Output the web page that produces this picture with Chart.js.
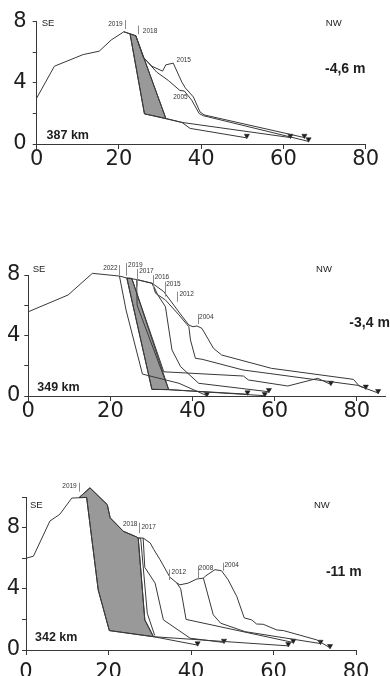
<!DOCTYPE html>
<html>
<head>
<meta charset="utf-8">
<script src="https://cdn.jsdelivr.net/npm/chart.js@4.4.1/dist/chart.umd.min.js"></script>
<style>
  html, body { margin: 0; padding: 0; background: #fff; }
  #wrap { position: relative; width: 390px; height: 676px; overflow: hidden; }
  .panel { position: absolute; left: 0; width: 390px; }
</style>
</head>
<body>
<div id="wrap">
  <div class="panel" style="top:0;height:170px"><canvas id="c1"></canvas></div>
  <div class="panel" style="top:240px;height:200px"><canvas id="c2"></canvas></div>
  <div class="panel" style="top:460px;height:216px"><canvas id="c3"></canvas></div>
</div>
<script>
// ---------- shared ticks ----------
const xTicks = [0, 20, 40, 60, 80];
const yTicks8 = [0, 2, 4, 6, 8];
const yTicks10 = [0, 2, 4, 6, 8, 10];

// ---------- panel 1 : 387 km ----------
const p1Line2019 = [[0,3.0],[4.3,5.08],[11.3,5.84],[15.2,6.06],[18.1,6.79],[21.2,7.33],[22.7,7.19],[26.2,1.97],[35.3,1.41],[37.3,1.02],[51.1,0.4]];
const p1Line2018 = [[21.2,7.33],[24.1,7.07],[31.4,1.67],[35.3,1.41],[61.7,0.42]];
const p1Line2015 = [[24.1,7.07],[25.9,5.67],[28.0,5.08],[30.6,4.76],[31.4,5.17],[33.2,5.28],[35.3,4.04],[36.1,3.68],[38.1,3.07],[39.7,2.1],[40.7,1.9],[65.1,0.42]];
const p1Line2005 = [[25.9,5.67],[29.2,4.69],[32.0,4.15],[34.8,3.5],[35.9,3.46],[37.7,2.86],[39.5,1.99],[40.5,1.85],[66.1,0.17]];
const p1Loss = [[22.7,7.19],[24.1,7.07],[31.4,1.67],[26.2,1.97]];
const p1Toes = [[51.1,0.54],[61.7,0.54],[65.1,0.54],[66.1,0.31]];

// ---------- panel 2 : 349 km ----------
const p2Line2022 = [[0,5.57],[9.7,6.68],[15.6,8.11],[22.2,7.93],[23.8,5.69],[27.8,1.45],[36.7,0.84],[43.5,0.02]];
const p2Line2019 = [[22.2,7.93],[24.0,7.8],[30.1,0.44],[34.2,0.42],[53.4,0.12]];
const p2Line2017 = [[24.0,7.8],[26.4,7.7],[26.5,6.0],[34.2,0.42],[57.6,0.02]];
const p2Line2016 = [[26.4,7.7],[30.2,7.45],[31.5,6.7],[33.4,5.9],[35.0,3.04],[37.1,1.94],[41.5,0.84],[58.6,0.28]];
const p2Line2015 = [[25.2,7.78],[33.0,1.6],[52.4,1.32],[53.6,1.06],[63.2,0.66],[70.5,1.17],[73.7,0.76]];
const p2Line2012 = [[30.2,7.45],[31.0,6.79],[33.4,6.35],[36.7,5.36],[39.1,4.58],[39.5,3.7],[40.7,2.49],[42.3,2.43],[52.3,1.72],[80.4,0.7],[82.2,0.5]];
const p2Line2004 = [[26.4,7.7],[30.2,7.45],[33.0,6.9],[36.3,5.69],[39.1,4.69],[40.1,4.58],[41.1,4.63],[42.3,4.47],[45.1,3.15],[47.1,2.71],[59.2,1.83],[79.2,1.1],[80.6,0.66],[85.2,0.2]];
const p2Loss = [[24.0,7.8],[25.2,7.78],[34.2,0.42],[30.1,0.44]];
const p2Toes = [[43.5,0.13],[53.4,0.24],[57.6,0.13],[58.6,0.4],[73.7,0.88],[82.2,0.62],[85.2,0.33]];

// ---------- panel 3 : 342 km ----------
const p3Line2019 = [[0,6.0],[1.8,6.13],[5.8,8.43],[8.2,8.87],[11.1,9.93],[14.7,9.97],[17.5,3.93],[20.2,1.27],[30.9,0.87],[41.6,0.32]];
const p3Line2018 = [[12.9,9.97],[15.5,10.6],[19.7,9.5],[20.4,8.64],[23.6,7.76],[26.8,7.39],[27.2,7.32],[28.8,1.97],[30.9,0.87],[63.6,0.27]];
const p3Line2018b = [[27.2,7.32],[27.8,7.3],[29.4,2.4],[31.2,0.95]];
const p3Line2017 = [[27.2,7.32],[28.4,7.32],[28.8,5.4],[31.3,4.37],[33.3,1.97],[39.8,0.77],[48.0,0.49]];
const p3Line2012 = [[28.4,7.32],[30.1,7.0],[31.0,6.56],[32.5,5.9],[34.9,4.75],[36.5,4.4],[37.5,4.0],[38.8,2.0],[64.8,0.49]];
const p3Line2008 = [[36.5,4.4],[37.3,4.26],[39.3,4.37],[41.4,4.64],[43.0,4.7],[45.4,2.3],[47.2,1.75],[53.1,1.2],[71.4,0.42]];
const p3Line2004 = [[43.0,4.7],[43.6,4.85],[45.8,5.25],[47.4,5.18],[49.0,4.59],[51.1,3.5],[52.9,2.1],[54.7,1.97],[55.9,1.7],[57.5,1.68],[60.8,1.31],[62.4,1.27],[70.5,0.66],[73.7,0.14]];
const p3Loss = [[12.9,9.97],[15.5,10.6],[19.7,9.5],[20.4,8.64],[23.6,7.76],[26.8,7.39],[27.2,7.32],[28.8,1.97],[30.9,0.87],[20.2,1.27],[17.5,3.93],[14.7,9.97]];
const p3Toes = [[41.6,0.44],[48.0,0.61],[63.6,0.39],[64.8,0.61],[71.4,0.54],[73.7,0.26]];

// ---------- labels (text, anchor in data units) ----------
const p1Years = [
  { t: '2019', x: 20.9, y: 7.84, align: 'right', tx: 21.5, ty0: 8.1, ty1: 7.51 },
  { t: '2018', x: 25.8, y: 7.38, align: 'left', tx: 24.7, ty0: 7.73, ty1: 7.17 },
  { t: '2015', x: 34.0, y: 5.45, align: 'left' },
  { t: '2005', x: 33.2, y: 3.04, align: 'left' }
];
const p2Years = [
  { t: '2022', x: 21.75, y: 8.46, align: 'right', tx: 22.2, ty0: 8.66, ty1: 8.0 },
  { t: '2019', x: 24.3, y: 8.66, align: 'left', tx: 23.9, ty0: 8.79, ty1: 7.95 },
  { t: '2017', x: 27.0, y: 8.23, align: 'left', tx: 26.4, ty0: 8.4, ty1: 7.23 },
  { t: '2016', x: 30.8, y: 7.83, align: 'left', tx: 30.4, ty0: 8.0, ty1: 7.14 },
  { t: '2015', x: 33.6, y: 7.4, align: 'left', tx: 33.3, ty0: 7.56, ty1: 6.57 },
  { t: '2012', x: 36.8, y: 6.74, align: 'left', tx: 36.3, ty0: 6.9, ty1: 6.23 },
  { t: '2004', x: 41.6, y: 5.24, align: 'left', tx: 41.3, ty0: 5.42, ty1: 4.76 }
];
const p3Years = [
  { t: '2019', x: 12.3, y: 10.72, align: 'right', tx: 12.9, ty0: 10.93, ty1: 10.35 },
  { t: '2018', x: 27.0, y: 8.2, align: 'right', tx: 27.5, ty0: 8.32, ty1: 7.63 },
  { t: '2017', x: 28.0, y: 8.0, align: 'left' },
  { t: '2012', x: 35.3, y: 5.07, align: 'left', tx: 34.7, ty0: 5.27, ty1: 4.58 },
  { t: '2008', x: 41.9, y: 5.36, align: 'left', tx: 41.8, ty0: 5.5, ty1: 4.64 },
  { t: '2004', x: 48.1, y: 5.56, align: 'left', tx: 47.8, ty0: 5.7, ty1: 5.18 }
];
const p1Notes = [
  { t: 'SE', x: 1.2, y: 7.87, font: '9.5px "Liberation Sans", Arial' },
  { t: 'NW', x: 70.3, y: 7.87, font: '9.5px "Liberation Sans", Arial' },
  { t: '-4,6 m', x: 70.1, y: 4.9, font: 'bold 14px "Liberation Sans", Arial' },
  { t: '387 km', x: 2.4, y: 0.52, font: 'bold 12.5px "Liberation Sans", Arial' }
];
const p2Notes = [
  { t: 'SE', x: 1.06, y: 8.36, font: '9.5px "Liberation Sans", Arial' },
  { t: 'NW', x: 70.1, y: 8.36, font: '9.5px "Liberation Sans", Arial' },
  { t: '-3,4 m', x: 78.2, y: 4.83, font: 'bold 14px "Liberation Sans", Arial' },
  { t: '349 km', x: 2.18, y: 0.56, font: 'bold 12.5px "Liberation Sans", Arial' }
];
const p3Notes = [
  { t: 'SE', x: 0.97, y: 9.48, font: '9.5px "Liberation Sans", Arial' },
  { t: 'NW', x: 69.8, y: 9.48, font: '9.5px "Liberation Sans", Arial' },
  { t: '-11 m', x: 72.7, y: 5.12, font: 'bold 14px "Liberation Sans", Arial' },
  { t: '342 km', x: 2.18, y: 0.8, font: 'bold 12.5px "Liberation Sans", Arial' }
];

const INK = '#383838';

function decor(loss, years, notes) {
  return {
    id: 'decor',
    beforeDatasetsDraw(chart) {
      const { ctx, scales: { x, y } } = chart;
      ctx.save();
      ctx.beginPath();
      loss.forEach(([vx, vy], i) => {
        const px = x.getPixelForValue(vx), py = y.getPixelForValue(vy);
        if (i) ctx.lineTo(px, py); else ctx.moveTo(px, py);
      });
      ctx.closePath();
      ctx.fillStyle = '#999999';
      ctx.fill();
      ctx.strokeStyle = INK;
      ctx.lineWidth = 1;
      ctx.stroke();
      ctx.restore();
    },
    afterDatasetsDraw(chart) {
      const { ctx, scales: { x, y } } = chart;
      ctx.save();
      ctx.textBaseline = 'middle';
      for (const yr of years) {
        if (yr.tx !== undefined) {
          const px = Math.round(x.getPixelForValue(yr.tx)) + 0.5;
          ctx.beginPath();
          ctx.moveTo(px, y.getPixelForValue(yr.ty0));
          ctx.lineTo(px, y.getPixelForValue(yr.ty1));
          ctx.strokeStyle = '#8a8a8a';
          ctx.lineWidth = 1;
          ctx.stroke();
        }
        ctx.font = '6.5px "Liberation Sans", Arial';
        ctx.fillStyle = '#333';
        ctx.textAlign = yr.align;
        ctx.fillText(yr.t, x.getPixelForValue(yr.x), y.getPixelForValue(yr.y));
      }
      for (const n of notes) {
        ctx.font = n.font;
        ctx.fillStyle = '#1e1e1e';
        ctx.textAlign = 'left';
        ctx.fillText(n.t, x.getPixelForValue(n.x), y.getPixelForValue(n.y));
      }
      ctx.restore();
    }
  };
}

function lineSet(pts) {
  return {
    data: pts.map(([x, y]) => ({ x, y })),
    showLine: true,
    pointRadius: 0,
    borderColor: INK,
    borderWidth: 1,
    tension: 0,
    clip: false
  };
}

function toeSet(pts) {
  return {
    data: pts.map(([x, y]) => ({ x, y })),
    showLine: false,
    pointStyle: 'triangle',
    rotation: 180,
    pointRadius: 3,
    backgroundColor: '#1e1e1e',
    borderColor: '#1e1e1e',
    borderWidth: 0.5,
    clip: false
  };
}

function makePanel(id, p) {
  new Chart(document.getElementById(id), {
    type: 'scatter',
    data: { datasets: [...p.lines.map(lineSet), toeSet(p.toes)] },
    options: {
      animation: false,
      responsive: true,
      maintainAspectRatio: false,
      layout: { padding: { left: 0, right: p.padRight, top: p.padTop, bottom: 0 } },
      plugins: { legend: { display: false }, tooltip: { enabled: false } },
      scales: {
        x: {
          type: 'linear', min: 0, max: p.xMax,
          afterBuildTicks: s => { s.ticks = xTicks.map(v => ({ value: v })); },
          afterFit: s => { s.height = p.xAxisH; },
          grid: { drawOnChartArea: false, tickLength: 5, color: INK },
          border: { color: INK, width: 1 },
          ticks: { autoSkip: false, maxRotation: 0, padding: p.xPad, color: '#1e1e1e',
                   font: { family: 'DejaVu Sans', size: 21, lineHeight: 0.8 } }
        },
        y: {
          type: 'linear', min: 0, max: p.yMax,
          afterBuildTicks: s => { s.ticks = p.yTicks.map(v => ({ value: v })); },
          afterFit: s => { s.width = p.yAxisW; },
          grid: { drawOnChartArea: false, tickLength: 4, color: INK },
          border: { color: INK, width: 1 },
          ticks: { padding: p.yPad, color: '#1e1e1e',
                   font: { family: 'DejaVu Sans', size: 21, lineHeight: 0.8 },
                   callback: v => (v % 4 === 0 ? String(v) : '') }
        }
      }
    },
    plugins: [decor(p.loss, p.years, p.notes)]
  });
}

makePanel('c1', {
  lines: [p1Line2019, p1Line2018, p1Line2015, p1Line2005], toes: p1Toes, loss: p1Loss,
  years: p1Years, notes: p1Notes, yTicks: yTicks8,
  xMax: 80, yMax: 8, yAxisW: 36.7, padRight: 24.3, padTop: 21.5, xAxisH: 26, xPad: 2, yPad: 6
});
makePanel('c2', {
  lines: [p2Line2022, p2Line2019, p2Line2017, p2Line2016, p2Line2015, p2Line2012, p2Line2004], toes: p2Toes, loss: p2Loss,
  years: p2Years, notes: p2Notes, yTicks: yTicks8,
  xMax: 87, yMax: 8, yAxisW: 28.3, padRight: 1.7, padTop: 35, xAxisH: 44, xPad: 2, yPad: 4
});
makePanel('c3', {
  lines: [p3Line2019, p3Line2018, p3Line2018b, p3Line2017, p3Line2012, p3Line2008, p3Line2004], toes: p3Toes, loss: p3Loss,
  years: p3Years, notes: p3Notes, yTicks: yTicks10,
  xMax: 80, yMax: 10, yAxisW: 26, padRight: 34, padTop: 37, xAxisH: 26, xPad: 9, yPad: 2
});
</script>
</body>
</html>
